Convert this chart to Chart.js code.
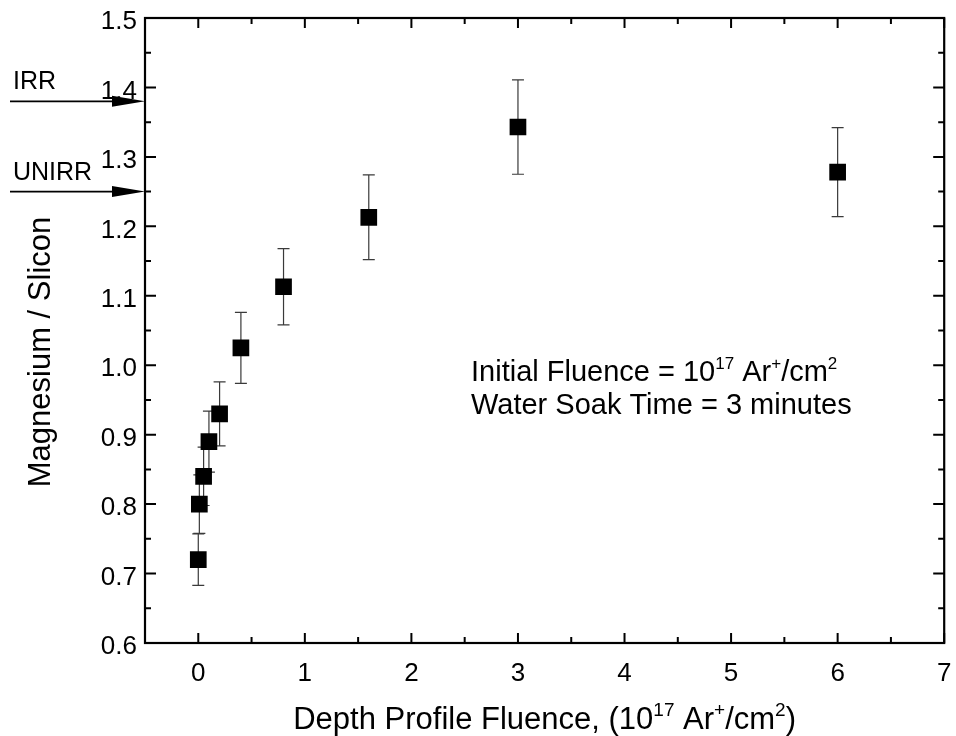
<!DOCTYPE html>
<html>
<head>
<meta charset="utf-8">
<script src="https://cdn.jsdelivr.net/npm/chart.js@4"></script>
<style>
  html, body { margin: 0; padding: 0; background: #fff; }
  #wrap { width: 956px; height: 736px; }
</style>
</head>
<body>
<div id="wrap"><canvas id="chart" width="956" height="736"></canvas></div>
<script>
const fluence = [0, 0.01, 0.05, 0.1, 0.2, 0.4, 0.8, 1.6, 3, 6];
const mgSi = [0.72, 0.80, 0.84, 0.89, 0.93, 1.025, 1.113, 1.213, 1.343, 1.278];
const mgSiErr = [0.037, 0.042, 0.042, 0.044, 0.046, 0.051, 0.055, 0.061, 0.068, 0.064];

// Achsen
const xTicks = [0, 1, 2, 3, 4, 5, 6, 7];
const xMinor = [-0.5, 0.5, 1.5, 2.5, 3.5, 4.5, 5.5, 6.5];
const yTicks = [0.6, 0.7, 0.8, 0.9, 1.0, 1.1, 1.2, 1.3, 1.4, 1.5];
const yMinor = [0.65, 0.75, 0.85, 0.95, 1.05, 1.15, 1.25, 1.35, 1.45];

// Pfeile links (Referenzwerte)
const refLabels = ['IRR', 'UNIRR'];
const refLevels = [1.38, 1.25];

const FONT = '"Liberation Sans", Arial, sans-serif';

// Text mit Hochstellungen: Teile [text, sup?]
function drawRich(ctx, parts, x, y, size, align) {
    const supSize = Math.round(size * 0.6);
    const widths = parts.map(([t, sup]) => {
        ctx.font = `${sup ? supSize : size}px ${FONT}`;
        return ctx.measureText(t).width;
    });
    const total = widths.reduce((a, b) => a + b, 0);
    let cx = align === 'center' ? x - total / 2 : x;
    parts.forEach(([t, sup], i) => {
        ctx.font = `${sup ? supSize : size}px ${FONT}`;
        ctx.fillText(t, cx, sup ? y - size * 0.42 : y);
        cx += widths[i];
    });
}

const framePlugin = {
    id: 'frame',
    beforeDatasetsDraw(chart) {
        const { ctx, scales: { x, y } } = chart;
        ctx.save();
        // Fehlerbalken
        ctx.strokeStyle = '#3a3a3a';
        ctx.lineWidth = 1.2;
        fluence.forEach((fx, i) => {
            const px = x.getPixelForValue(fx);
            const top = y.getPixelForValue(mgSi[i] + mgSiErr[i]);
            const bot = y.getPixelForValue(mgSi[i] - mgSiErr[i]);
            ctx.beginPath();
            ctx.moveTo(px, top); ctx.lineTo(px, bot);
            ctx.moveTo(px - 6, top); ctx.lineTo(px + 6, top);
            ctx.moveTo(px - 6, bot); ctx.lineTo(px + 6, bot);
            ctx.stroke();
        });
        ctx.restore();
    },
    afterDraw(chart) {
        const { ctx, chartArea: a, scales: { x, y } } = chart;
        ctx.save();
        ctx.strokeStyle = '#000';
        ctx.lineWidth = 2.2;
        ctx.strokeRect(a.left, a.top, a.right - a.left, a.bottom - a.top);

        // Ticks nach innen, alle vier Seiten
        ctx.lineWidth = 2;
        const tickX = (vals, len) => vals.forEach(v => {
            const px = x.getPixelForValue(v);
            ctx.beginPath();
            ctx.moveTo(px, a.bottom); ctx.lineTo(px, a.bottom - len);
            ctx.moveTo(px, a.top); ctx.lineTo(px, a.top + len);
            ctx.stroke();
        });
        const tickY = (vals, len) => vals.forEach(v => {
            const py = y.getPixelForValue(v);
            ctx.beginPath();
            ctx.moveTo(a.left, py); ctx.lineTo(a.left + len, py);
            ctx.moveTo(a.right, py); ctx.lineTo(a.right - len, py);
            ctx.stroke();
        });
        tickX(xTicks, 10); tickX(xMinor, 6);
        tickY(yTicks, 11); tickY(yMinor, 6);

        ctx.fillStyle = '#000';
        ctx.textBaseline = 'alphabetic';

        // Achsentitel
        ctx.textAlign = 'left';
        drawRich(ctx, [['Depth Profile Fluence, (10'], ['17', true], [' Ar'], ['+', true], ['/cm'], ['2', true], [')']],
            (a.left + a.right) / 2, 729, 31, 'center');

        ctx.save();
        ctx.translate(50, 352);
        ctx.rotate(-Math.PI / 2);
        ctx.textAlign = 'center';
        ctx.font = `31px ${FONT}`;
        ctx.fillText('Magnesium / Slicon', 0, 0);
        ctx.restore();

        // Beschriftung im Diagramm
        ctx.textAlign = 'left';
        drawRich(ctx, [['Initial Fluence = 10'], ['17', true], [' Ar'], ['+', true], ['/cm'], ['2', true]], 471, 381, 29, 'left');
        drawRich(ctx, [['Water Soak Time = 3 minutes']], 471, 414, 29, 'left');

        // Pfeile IRR / UNIRR
        refLevels.forEach((lvl, i) => {
            const py = y.getPixelForValue(lvl);
            ctx.lineWidth = 1.6;
            ctx.beginPath();
            ctx.moveTo(10, py); ctx.lineTo(a.left - 30, py);
            ctx.stroke();
            ctx.beginPath();
            ctx.moveTo(a.left - 33, py - 5.5);
            ctx.lineTo(a.left, py);
            ctx.lineTo(a.left - 33, py + 5.5);
            ctx.closePath();
            ctx.fill();
            ctx.font = `25px ${FONT}`;
            ctx.fillText(refLabels[i], 13, py - 12);
        });
        ctx.restore();
    }
};

new Chart(document.getElementById('chart'), {
    type: 'scatter',
    data: {
        datasets: [{
            data: fluence.map((v, i) => ({ x: v, y: mgSi[i] })),
            pointStyle: 'rect',
            pointRadius: 11.8,
            pointHoverRadius: 11.8,
            backgroundColor: '#000',
            borderColor: '#000',
            borderWidth: 0
        }]
    },
    options: {
        responsive: false,
        animation: false,
        layout: { padding: { left: 0, right: 7, top: 18, bottom: 0 } },
        plugins: { legend: { display: false }, tooltip: { enabled: false } },
        scales: {
            x: {
                type: 'linear',
                min: -0.5,
                max: 7,
                afterBuildTicks: s => { s.ticks = xTicks.map(v => ({ value: v })); },
                afterFit: s => { s.height = 93; s.paddingLeft = 0; s.paddingRight = 0; },
                grid: { display: false, drawTicks: false },
                border: { display: false },
                ticks: { color: '#000', font: { family: FONT, size: 26 }, padding: 15, maxRotation: 0 }
            },
            y: {
                min: 0.6,
                max: 1.5,
                afterBuildTicks: s => { s.ticks = yTicks.map(v => ({ value: v })); },
                afterFit: s => { s.width = 145; s.paddingTop = 0; s.paddingBottom = 0; },
                grid: { display: false, drawTicks: false },
                border: { display: false },
                ticks: {
                    color: '#000',
                    font: { family: FONT, size: 26 },
                    padding: 8,
                    labelOffset: 4,
                    callback: v => v.toFixed(1)
                }
            }
        }
    },
    plugins: [framePlugin]
});
</script>
</body>
</html>
